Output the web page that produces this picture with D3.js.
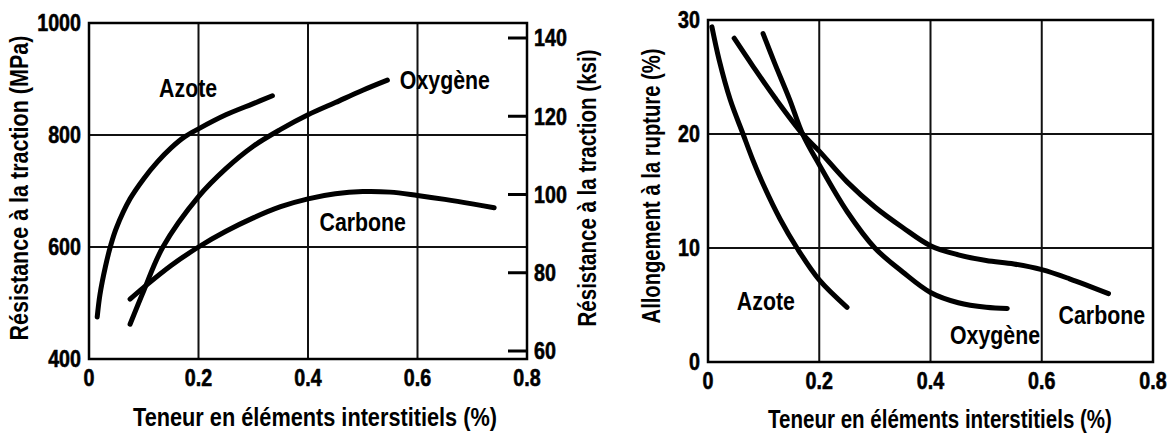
<!DOCTYPE html>
<html lang="fr">
<head>
<meta charset="UTF-8">
<title>Teneur en éléments interstitiels</title>
<script src="https://cdn.jsdelivr.net/npm/d3@7/dist/d3.min.js"></script>
<style>
	body { margin: 0; background: #fff; }
	svg text {
		font-family: "Liberation Sans", Arial, sans-serif;
		font-weight: bold;
		fill: #000;
	}
	svg text.tick { stroke: #000; stroke-width: 0.6; }
	.grid line { stroke: #111; stroke-width: 2; }
	.frame { fill: none; stroke: #000; stroke-width: 2.5; }
	.curve { fill: none; stroke: #000; stroke-width: 5; stroke-linecap: round; }
</style>
</head>
<body>
<div id="chart"></div>
<script>
// --- data ---
var xTicks = [0, 0.2, 0.4, 0.6, 0.8];
var xTickLabels = ["0", "0.2", "0.4", "0.6", "0.8"];
var mpaTicks = [400, 600, 800, 1000];
var ksiTicks = [60, 80, 100, 120, 140];
var elongTicks = [0, 10, 20, 30];

// left panel: tensile strength (MPa) vs content (%)
var strAzote = [[0.015,475],[0.02,515],[0.03,565],[0.04,604],[0.05,634],[0.075,686],[0.1,722],[0.125,752],[0.15,777],[0.175,797],[0.2,811],[0.25,836],[0.3,856],[0.335,870]];
var strOxygene = [[0.075,462],[0.1,522],[0.135,600],[0.2,690],[0.25,740],[0.3,780],[0.35,810],[0.4,836],[0.45,858],[0.5,880],[0.545,898]];
var strCarbone = [[0.075,507],[0.1,528],[0.15,567],[0.2,600],[0.25,628],[0.3,652],[0.35,672],[0.4,686],[0.45,695],[0.5,699],[0.55,698],[0.6,692],[0.65,685],[0.7,677],[0.74,670]];

// right panel: elongation at break (%) vs content (%)
var elAzote = [[0.007,29.4],[0.02,26.5],[0.04,23],[0.063,20],[0.08,17.8],[0.1,15.5],[0.13,12.5],[0.16,10],[0.2,7.2],[0.25,4.8]];
var elOxygene = [[0.099,28.8],[0.12,26.2],[0.147,23],[0.17,20],[0.2,17.3],[0.25,13.2],[0.3,10],[0.35,7.9],[0.4,6.1],[0.45,5.2],[0.5,4.8],[0.538,4.7]];
var elCarbone = [[0.047,28.4],[0.08,26],[0.12,23.2],[0.17,20],[0.2,18.5],[0.25,15.8],[0.3,13.6],[0.35,11.8],[0.4,10.2],[0.45,9.4],[0.5,8.9],[0.55,8.6],[0.6,8.1],[0.65,7.3],[0.72,6.0]];

// curve names and where they sit, in data units
var strLabels = [["Azote", 0.181, 884], ["Oxygène", 0.65, 898], ["Carbone", 0.5, 645]];
var elLabels = [["Azote", 0.104, 5.4], ["Oxygène", 0.516, 2.4], ["Carbone", 0.708, 4.1]];

var xTitle = "Teneur en éléments interstitiels (%)";
var mpaTitle = "Résistance à la traction (MPa)";
var ksiTitle = "Résistance à la traction (ksi)";
var elTitle = "Allongement à la rupture (%)";

var width = 1172, height = 433;
var narrow = 0.82; // the print uses a condensed face
var svg = d3.select("#chart").append("svg")
	.attr("width", width)
	.attr("height", height);

// condensed text: squeeze horizontally around its anchor point
function ctext(parent, txt, x, y, anchor, size, cls) {
	parent.append("g")
		.attr("transform", "translate(" + x + "," + y + ") scale(" + narrow + ",1)")
	  .append("text")
		.attr("class", cls || null)
		.attr("text-anchor", anchor)
		.attr("dy", "0.35em")
		.style("font-size", size + "px")
		.text(txt);
}

// ---------- left panel ----------
var x1 = d3.scaleLinear().domain([0, 0.8]).range([89, 527]);
var yMpa = d3.scaleLinear().domain([400, 1000]).range([359, 23]);
var yKsi = d3.scaleLinear().domain([60, 140]).range([351, 38]);

// ---------- right panel ----------
var x2 = d3.scaleLinear().domain([0, 0.8]).range([708, 1153]);
var yEl = d3.scaleLinear().domain([0, 30]).range([362, 20]);

function drawPanel(x, y, yTicks, series, labels) {
	var g = svg.append("g");
	var grid = g.append("g").attr("class", "grid");
	grid.selectAll(".vx").data(xTicks.slice(1, -1)).enter().append("line")
		.attr("x1", function(d){ return x(d); })
		.attr("x2", function(d){ return x(d); })
		.attr("y1", y.range()[0])
		.attr("y2", y.range()[1]);
	grid.selectAll(".hy").data(yTicks.slice(1, -1)).enter().append("line")
		.attr("y1", function(d){ return y(d); })
		.attr("y2", function(d){ return y(d); })
		.attr("x1", x.range()[0])
		.attr("x2", x.range()[1]);

	g.append("rect").attr("class", "frame")
		.attr("x", x.range()[0])
		.attr("y", y.range()[1])
		.attr("width", x.range()[1] - x.range()[0])
		.attr("height", y.range()[0] - y.range()[1]);

	yTicks.forEach(function(d){
		ctext(g, d, x.range()[0] - 8, y(d), "end", 24, "tick");
	});
	xTicks.forEach(function(d, i){
		ctext(g, xTickLabels[i], x(d), y.range()[0] + 19, "middle", 24, "tick");
	});

	var line = d3.line()
		.x(function(d){ return x(d[0]); })
		.y(function(d){ return y(d[1]); })
		.curve(d3.curveCatmullRom.alpha(0.5));

	g.selectAll(".curve").data(series).enter().append("path")
		.attr("class", "curve")
		.attr("d", line);

	labels.forEach(function(d){
		ctext(g, d[0], x(d[1]), y(d[2]), "middle", 26);
	});
	return g;
}

drawPanel(x1, yMpa, mpaTicks, [strAzote, strOxygene, strCarbone], strLabels);
drawPanel(x2, yEl, elongTicks, [elAzote, elOxygene, elCarbone], elLabels);

// ksi axis on right edge of the left panel, ticks point inward
var ksi = svg.append("g");
ksi.selectAll("line").data(ksiTicks).enter().append("line")
	.attr("x1", x1(0.8) - 19)
	.attr("x2", x1(0.8))
	.attr("y1", function(d){ return yKsi(d); })
	.attr("y2", function(d){ return yKsi(d); })
	.attr("stroke", "#000")
	.attr("stroke-width", 3);
ksiTicks.forEach(function(d){
	ctext(ksi, d, x1(0.8) + 7, yKsi(d), "start", 24, "tick");
});

// axis titles, squeezed to the printed length
function title(txt, cx, cy, rot, len) {
	var g = svg.append("g");
	var t = g.append("text")
		.attr("text-anchor", "middle")
		.attr("dy", "0.35em")
		.style("font-size", "25px")
		.text(txt);
	var w = t.node().getComputedTextLength();
	g.attr("transform", "translate(" + cx + "," + cy + ") rotate(" + rot + ") scale(" + (len / w) + ",1)");
}
title(xTitle, 315, 417, 0, 364);
title(xTitle, 940, 419, 0, 344);
title(mpaTitle, 19, 188, -90, 305);
title(ksiTitle, 587, 188, -90, 277);
title(elTitle, 651, 186, -90, 275);
</script>
</body>
</html>
